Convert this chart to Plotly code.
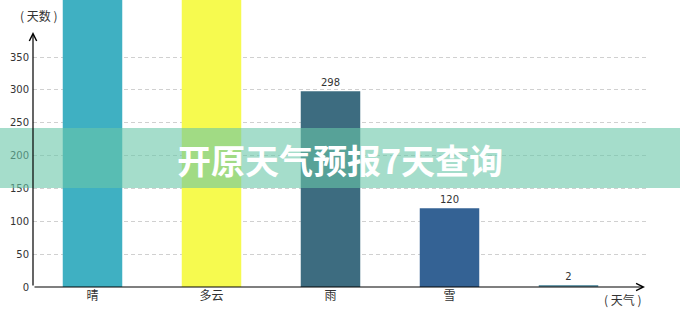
import plotly.graph_objects as go

categories = ["晴", "多云", "雨", "雪", ""]
days = [520, 480, 298, 120, 2]
bar_colors = ["#3fb0c2", "#f6fa4f", "#3d6c80", "#346294", "#6c9cac"]
y_ticks = [0, 50, 100, 150, 200, 250, 300, 350]

W, H = 680, 320
L, R, T, B = 33, 33, 0, 33
ppu = 0.657  # pixels per unit
y_top = (H - T - B) / ppu

fig = go.Figure()
fig.add_trace(go.Bar(
    x=list(range(len(categories))), y=days,
    marker=dict(color=bar_colors, line=dict(width=0)),
    width=0.5,
    text=[str(v) if v < y_top - 20 else "" for v in days], textposition="outside",
    textfont=dict(size=10, color="#333", family="DejaVu Sans"),
    cliponaxis=True,
))

font = "DejaVu Sans, Noto Sans CJK SC"
fig.update_layout(
    width=W, height=H, margin=dict(l=L, r=R, t=T, b=B),
    plot_bgcolor="white", paper_bgcolor="white",
    showlegend=False, bargap=0.5,
    font=dict(family=font, color="#333"),
    xaxis=dict(
        range=[-0.5, -0.5 + (W - L - R) / 119.0],
        tickvals=list(range(len(categories))), ticktext=categories,
        tickfont=dict(size=12, family="Noto Sans CJK SC", color="#333"),
        showgrid=False, zeroline=False, showline=False, ticks="",
    ),
    yaxis=dict(
        range=[0, y_top], tickvals=y_ticks,
        tickfont=dict(size=10, color="#333"),
        showgrid=True, gridcolor="#d0d0d0", griddash="4px,3px", gridwidth=1,
        zeroline=False, showline=False, ticks="", ticklabelstandoff=3,
    ),
)

pw, ph = W - L - R, H - T - B

# axes with arrows
fig.add_annotation(x=0, xref="paper", y=(H - B - 32) / ppu, yref="y",
                   ax=0, ay=(H - B - 32), axref="pixel", ayref="pixel",
                   showarrow=True, arrowhead=5, arrowsize=1.2, arrowwidth=1.2,
                   arrowcolor="black", text="")
fig.add_annotation(x=(645 - L) / pw, xref="paper", y=0, yref="y",
                   ax=-(645 - L), ay=0, axref="pixel", ayref="pixel",
                   showarrow=True, arrowhead=5, arrowsize=1.2, arrowwidth=1.2,
                   arrowcolor="black", text="")

fig.add_annotation(x=(18 - L) / pw, xref="paper", xanchor="left",
                   y=(ph - 15) / ph, yref="paper", yanchor="middle",
                   text="( 天数 )", showarrow=False,
                   font=dict(size=12, family="Noto Sans CJK SC", color="#333"))
fig.add_annotation(x=(602 - L) / pw, xref="paper", xanchor="left",
                   y=(ph - 299) / ph, yref="paper", yanchor="middle",
                   text="( 天气 )", showarrow=False,
                   font=dict(size=12, family="Noto Sans CJK SC", color="#333"))

# banner overlay
fig.add_shape(type="rect", xref="paper", yref="paper",
              x0=-L / pw, x1=(W - L) / pw,
              y0=(ph - 188) / ph, y1=(ph - 128) / ph,
              fillcolor="rgba(105,198,168,0.6)", line=dict(width=0), layer="above")
fig.add_annotation(x=(340 - L) / pw, xref="paper", y=(ph - 159) / ph, yref="paper",
                   text="<b>开原天气预报7天查询</b>", showarrow=False,
                   font=dict(size=34, family="Noto Sans CJK SC", color="white"))

fig.write_html("out.html")
